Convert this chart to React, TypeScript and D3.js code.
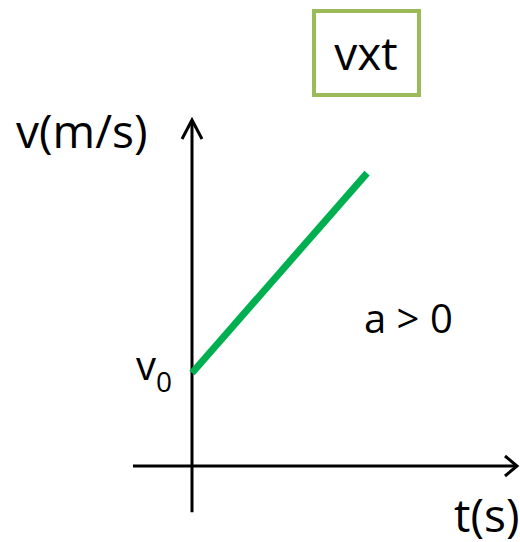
import React from "react";
import * as d3 from "d3";

const lineT = [0, 5.37];
const lineV = [2.68, 8.44];
const xAxisExtent = [-1.81, 10];
const yAxisExtent = [-1.33, 10];
const title = "vxt";
const yLabel = "v(m/s)";
const xLabel = "t(s)";
const v0Label = "v";
const v0Sub = "0";
const accelLabel = "a > 0";

const W = 520;
const H = 542;
const FONT = "'Open Sans', 'Liberation Sans', sans-serif";

export default function App() {
  const x = d3.scaleLinear().domain([0, 10]).range([192, 518]);
  const y = d3.scaleLinear().domain([0, 10]).range([466, 119]);
  const pts: [number, number][] = lineT.map((t, i) => [t, lineV[i]]);
  const line = d3
    .line<[number, number]>()
    .x((d) => x(d[0]))
    .y((d) => y(d[1]));

  const x0 = x(0);
  const y0 = y(0);
  const xEnd = x(xAxisExtent[1]);
  const yTop = y(yAxisExtent[1]);

  return (
    <svg
      width={W}
      height={H}
      style={{ position: "absolute", left: 0, top: 0, background: "#fff" }}
      fontFamily={FONT}
    >
      <rect x={0} y={0} width={W} height={H} fill="#fff" />
      {/* title box */}
      <rect x={314} y={11} width={105} height={84} fill="none" stroke="#9BBB59" strokeWidth={4} />
      <text x={366} y={70} textAnchor="middle" fontSize={46} fill="#000">
        {title}
      </text>
      {/* axes */}
      <line x1={x(xAxisExtent[0])} y1={y0} x2={xEnd - 1} y2={y0} stroke="#000" strokeWidth={3} />
      <line x1={x0} y1={y(yAxisExtent[0])} x2={x0} y2={yTop + 1} stroke="#000" strokeWidth={3} />
      <path
        d={`M${xEnd - 13},${y0 - 10} L${xEnd - 1},${y0} L${xEnd - 13},${y0 + 10}`}
        fill="none"
        stroke="#000"
        strokeWidth={3}
      />
      <path
        d={`M${x0 - 10},${yTop + 20} L${x0},${yTop + 1} L${x0 + 10},${yTop + 20}`}
        fill="none"
        stroke="#000"
        strokeWidth={3}
      />
      {/* line */}
      <path d={line(pts) || ""} fill="none" stroke="#00B050" strokeWidth={7} />
      {/* labels */}
      <text x={16} y={148} fontSize={46} fill="#000">
        {yLabel}
      </text>
      <text x={454} y={532} fontSize={46} fill="#000">
        {xLabel}
      </text>
      <text x={364} y={333} fontSize={40} fill="#000">
        {accelLabel}
      </text>
      <text x={136} y={380} fontSize={40} fill="#000">
        {v0Label}
        <tspan fontSize={28} dy={12}>
          {v0Sub}
        </tspan>
      </text>
    </svg>
  );
}
